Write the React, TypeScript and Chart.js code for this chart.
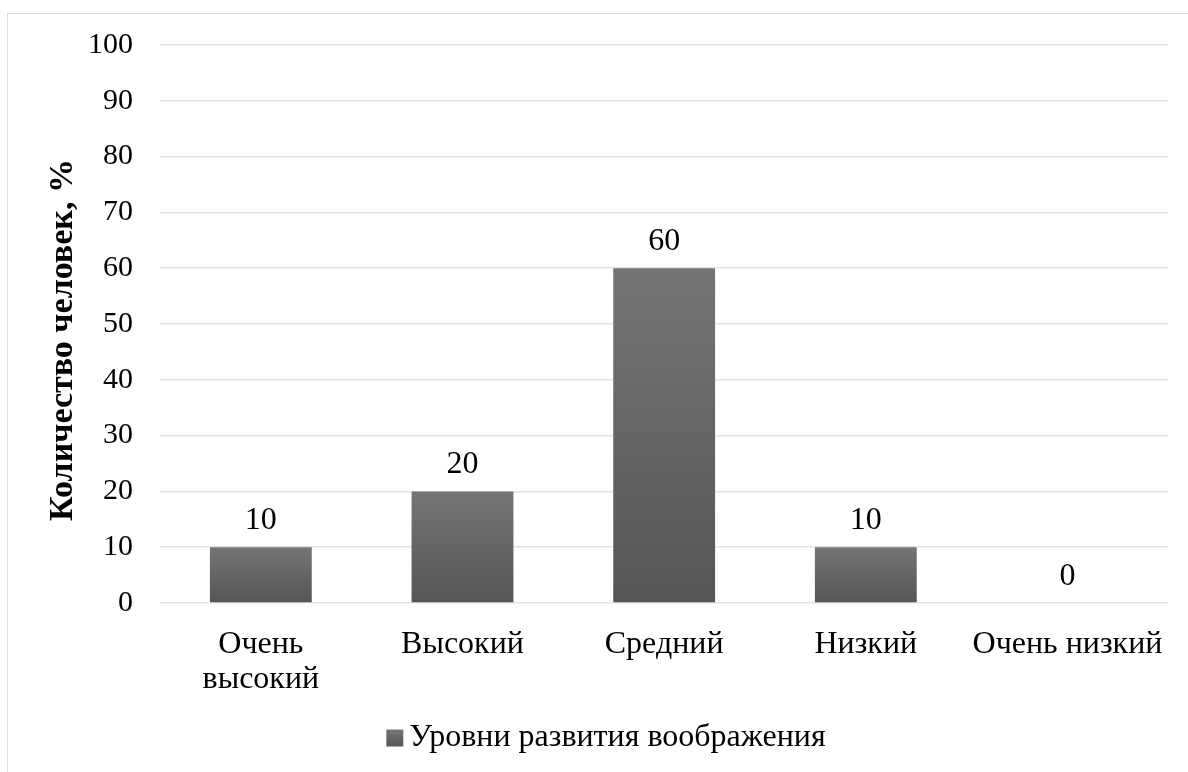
import React, { useEffect, useRef } from "react";
import { Chart, registerables } from "chart.js";

Chart.register(...registerables);

const categories: (string | string[])[] = [["Очень", "высокий"], "Высокий", "Средний", "Низкий", "Очень низкий"];
const values: number[] = [10, 20, 60, 10, 0];
const seriesLabel = "Уровни развития воображения";
const yTitle = "Количество человек, %";

const FONT = "'Liberation Serif', 'Times New Roman', serif";

const valueLabels = {
  id: "valueLabels",
  afterDatasetsDraw(chart: any) {
    const { ctx } = chart;
    const meta = chart.getDatasetMeta(0);
    ctx.save();
    ctx.font = `32px ${FONT}`;
    ctx.fillStyle = "#000";
    ctx.textAlign = "center";
    ctx.textBaseline = "alphabetic";
    meta.data.forEach((bar: any, i: number) => {
      ctx.fillText(String(values[i]), bar.x, bar.y - 18);
    });
    ctx.restore();
  },
};

const yAxisTitle = {
  id: "yAxisTitle",
  afterDraw(chart: any) {
    const { ctx } = chart;
    ctx.save();
    ctx.translate(63, 340);
    ctx.rotate(-Math.PI / 2);
    ctx.font = `bold 34px ${FONT}`;
    ctx.fillStyle = "#000";
    ctx.textAlign = "center";
    ctx.textBaseline = "middle";
    ctx.fillText(yTitle, 0, 0);
    ctx.restore();
  },
};

const customLegend = {
  id: "customLegend",
  afterDraw(chart: any) {
    const { ctx } = chart;
    ctx.save();
    ctx.font = `32px ${FONT}`;
    const textW = ctx.measureText(seriesLabel).width;
    const box = 17;
    const gap = 6;
    const total = box + gap + textW;
    const cx = 606;
    const x0 = cx - total / 2;
    const cy = 738;
    const g = ctx.createLinearGradient(0, cy - box / 2, 0, cy + box / 2);
    g.addColorStop(0, "#777777");
    g.addColorStop(1, "#555555");
    ctx.fillStyle = g;
    ctx.fillRect(x0, cy - box / 2, box, box);
    ctx.fillStyle = "#000";
    ctx.textAlign = "left";
    ctx.textBaseline = "middle";
    ctx.fillText(seriesLabel, x0 + box + gap, cy);
    ctx.restore();
  },
};

export default function App() {
  const ref = useRef<HTMLCanvasElement>(null);
  useEffect(() => {
    document.body.style.margin = "0";
    const chart = new Chart(ref.current!, {
      type: "bar",
      data: {
        labels: categories,
        datasets: [
          {
            label: seriesLabel,
            data: values,
            backgroundColor: (c: any) => {
              const ch = c.chart;
              if (!ch.chartArea || c.dataIndex === undefined || !ch.scales.y) return "#666666";
              const v = values[c.dataIndex];
              const top = ch.scales.y.getPixelForValue(v);
              const base = ch.scales.y.getPixelForValue(0);
              if (!isFinite(top) || !isFinite(base) || base - top < 1) return "#666666";
              const g = ch.ctx.createLinearGradient(0, top, 0, base);
              g.addColorStop(0, "#757575");
              g.addColorStop(1, "#555555");
              return g;
            },
            borderWidth: 0,
            barPercentage: 0.505,
            categoryPercentage: 1,
          },
        ],
      },
      options: {
        responsive: false,
        animation: false,
        layout: { padding: { left: 0, right: 16, top: 45, bottom: 0 } },
        plugins: {
          legend: { display: false },
          tooltip: { enabled: false },
        },
        scales: {
          x: {
            grid: { display: false, drawTicks: false },
            border: { display: false },
            ticks: {
              font: { family: FONT, size: 32, lineHeight: 1.1 },
              color: "#000",
              padding: 24,
              maxRotation: 0,
              autoSkip: false,
            },
            afterFit: (s: any) => {
              s.height = 169;
            },
          },
          y: {
            min: 0,
            max: 100,
            ticks: {
              stepSize: 10,
              font: { family: FONT, size: 30 },
              color: "#000",
              padding: 27,
            },
            grid: { color: "#dfe3e8", lineWidth: 1.5, drawTicks: false },
            border: { display: false },
            title: { display: false },
            afterFit: (s: any) => {
              s.width = 160;
            },
          },
        },
      },
      plugins: [valueLabels, yAxisTitle, customLegend],
    });
    return () => chart.destroy();
  }, []);
  return (
    <div style={{ position: "relative", width: 1188, height: 772, overflow: "hidden", background: "#fff" }}>
      <div
        style={{
          position: "absolute",
          left: 7,
          top: 13,
          width: 1200,
          height: 800,
          border: "1px solid #dadde2",
          boxSizing: "border-box",
        }}
      />
      <canvas ref={ref} width={1188} height={772} style={{ position: "absolute", left: 0, top: 0 }} />
    </div>
  );
}
